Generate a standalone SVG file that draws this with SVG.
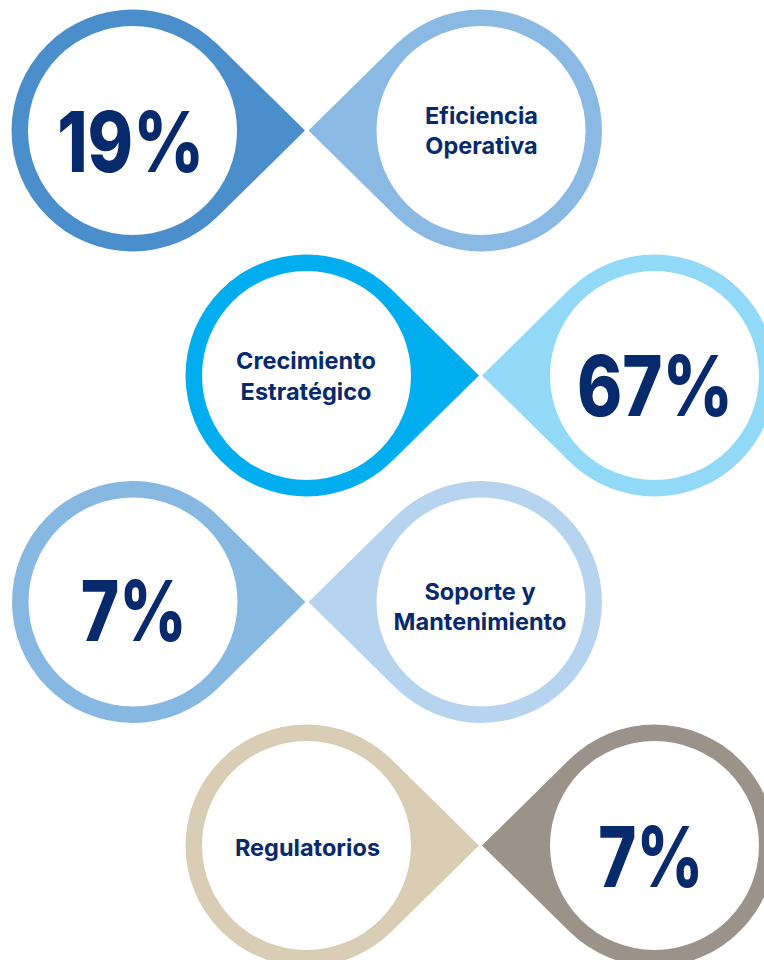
<svg xmlns="http://www.w3.org/2000/svg" xmlns:xlink="http://www.w3.org/1999/xlink" width="764" height="960" viewBox="0 0 764 960">
<style>
.lbl{font-family:Inter,"Liberation Sans",sans-serif;font-weight:700;font-size:23.5px;fill:#072a6c;text-anchor:middle}
.num{font-family:Inter,"Liberation Sans",sans-serif;font-weight:800;font-size:84px;fill:#072a6c;text-anchor:middle}
.hole{fill:#ffffff}
</style>
<defs>
<path id="tearL" d="M172.5 0 L84.88 -86.24 A121 121 0 1 0 84.88 86.24 Z"/>
<path id="tearR" d="M-172.5 0 L-84.88 -86.24 A121 121 0 1 1 -84.88 86.24 Z"/>
</defs>
<rect width="764" height="960" fill="#ffffff"/>

<g id="node-19">
<use xlink:href="#tearL" href="#tearL" transform="translate(132.5 130.5)" fill="#4a8fcb"/>
<circle class="hole" cx="132.5" cy="130.5" r="104.5"/>
<text class="num" x="130.7" y="171.5" textLength="147" lengthAdjust="spacingAndGlyphs">19%</text>
</g>
<g id="node-eficiencia">
<use xlink:href="#tearR" href="#tearR" transform="translate(481 130.5)" fill="#8ab9e3"/>
<circle class="hole" cx="481" cy="130.5" r="104.5"/>
<text class="lbl" x="481.5" y="124.3">Eficiencia</text>
<text class="lbl" x="481.5" y="154.3">Operativa</text>
</g>

<g id="node-crecimiento">
<use xlink:href="#tearL" href="#tearL" transform="translate(306.5 375.5)" fill="#00aeef"/>
<circle class="hole" cx="306.5" cy="375.5" r="104.5"/>
<text class="lbl" x="306" y="369.3">Crecimiento</text>
<text class="lbl" x="306" y="400">Estratégico</text>
</g>
<g id="node-67">
<use xlink:href="#tearR" href="#tearR" transform="translate(654.5 375.5)" fill="#92d9f8"/>
<circle class="hole" cx="654.5" cy="375.5" r="104.5"/>
<text class="num" x="655" y="415.7" textLength="156" lengthAdjust="spacingAndGlyphs">67%</text>
</g>

<g id="node-7a">
<use xlink:href="#tearL" href="#tearL" transform="translate(133 602)" fill="#87b8e2"/>
<circle class="hole" cx="133" cy="602" r="104.5"/>
<text class="num" x="133.8" y="640.7" textLength="106" lengthAdjust="spacingAndGlyphs">7%</text>
</g>
<g id="node-soporte">
<use xlink:href="#tearR" href="#tearR" transform="translate(481 602)" fill="#b6d3ef"/>
<circle class="hole" cx="481" cy="602" r="104.5"/>
<text class="lbl" x="480" y="600">Soporte y</text>
<text class="lbl" x="480" y="630">Mantenimiento</text>
</g>

<g id="node-regulatorios">
<use xlink:href="#tearL" href="#tearL" transform="translate(306.5 845.5)" fill="#d9cdb5"/>
<circle class="hole" cx="306.5" cy="845.5" r="104.5"/>
<text class="lbl" x="307.5" y="855.7">Regulatorios</text>
</g>
<g id="node-7b">
<use xlink:href="#tearR" href="#tearR" transform="translate(654.5 845.5)" fill="#9b928a"/>
<circle class="hole" cx="654.5" cy="845.5" r="104.5"/>
<text class="num" x="650.8" y="886.7" textLength="105" lengthAdjust="spacingAndGlyphs">7%</text>
</g>
</svg>
